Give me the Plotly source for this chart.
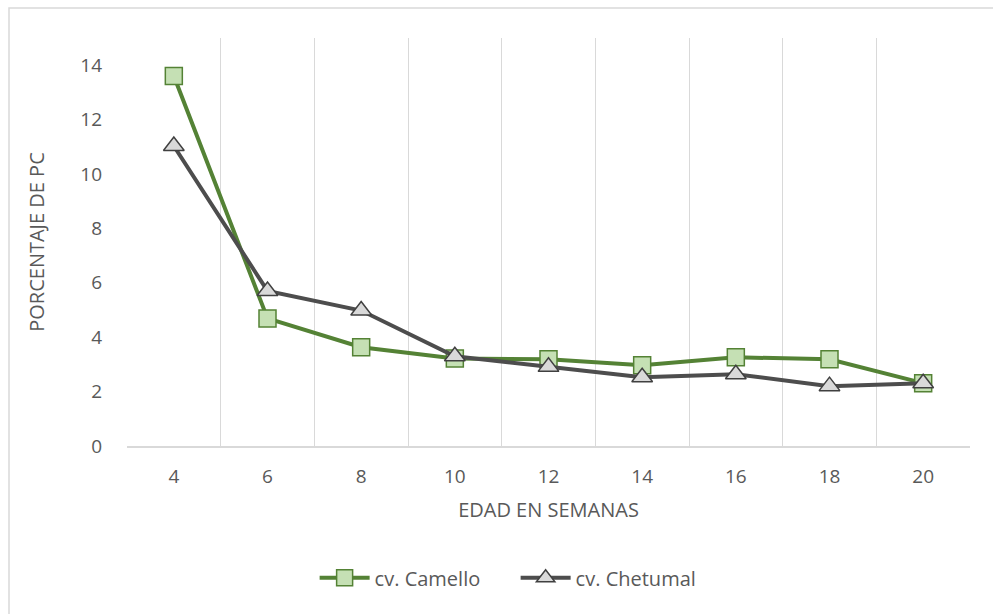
import plotly.graph_objects as go

# Edad (semanas) y porcentaje de PC por cultivar
semanas = ["4", "6", "8", "10", "12", "14", "16", "18", "20"]
camello = [13.6, 4.69, 3.63, 3.22, 3.19, 2.97, 3.26, 3.19, 2.31]
chetumal = [11.03, 5.70, 4.98, 3.30, 2.91, 2.53, 2.64, 2.20, 2.31]
y_ticks = [0, 2, 4, 6, 8, 10, 12, 14]

FONT = "Open Sans"
TXT = "#595959"
GRID = "#D9D9D9"

fig = go.Figure()
fig.add_trace(go.Scatter(
    x=semanas, y=camello, name="cv. Camello", mode="lines+markers",
    line=dict(color="#548235", width=4),
    marker=dict(symbol="square", size=17, color="#C5E0B4",
                line=dict(color="#548235", width=1.5)),
))
fig.add_trace(go.Scatter(
    x=semanas, y=chetumal, name="cv. Chetumal", mode="lines+markers",
    line=dict(color="#4D4D4D", width=4),
    marker=dict(symbol="triangle-up", size=18, color="#D9D9D9",
                line=dict(color="#404040", width=1.5)),
))

L, R, T, B = 127, 23, 38, 168
W, H = 993, 614
pw, ph = W - L - R, H - T - B

# Chart frame (left and top edges visible)
fig.add_shape(type="rect", xref="paper", yref="paper",
              x0=(9 - L) / pw, x1=1.2, y0=-0.6, y1=(H - B - 8) / ph,
              line=dict(color="#D9D9D9", width=1.5), fillcolor="rgba(0,0,0,0)",
              layer="below")

fig.update_layout(
    width=W, height=H,
    margin=dict(l=L, r=R, t=T, b=B),
    paper_bgcolor="white", plot_bgcolor="white",
    font=dict(family=FONT, color=TXT, size=19),
    showlegend=True,
    legend=dict(orientation="h", x=0.461, xanchor="center", y=-0.275, yanchor="top",
                font=dict(size=20, color=TXT, family=FONT), itemwidth=50,
                entrywidth=136, entrywidthmode="pixels"),
    xaxis=dict(
        type="category", tickson="boundaries", showgrid=True, gridcolor=GRID, gridwidth=1,
        showline=True, linecolor=GRID, linewidth=1.5, ticks="", range=[-0.5, 8.5],
        tickfont=dict(size=19, color=TXT), ticklabelstandoff=12,
        title=dict(text="EDAD EN SEMANAS", font=dict(size=20, color=TXT), standoff=15),
        zeroline=False,
    ),
    yaxis=dict(
        range=[0, 15], tickvals=y_ticks, showgrid=False, zeroline=False, showline=False,
        ticks="", tickfont=dict(size=19, color=TXT), ticklabelstandoff=24,
        title=dict(text="PORCENTAJE DE PC", font=dict(size=20, color=TXT), standoff=30),
    ),
)

fig.write_html("out.html")
